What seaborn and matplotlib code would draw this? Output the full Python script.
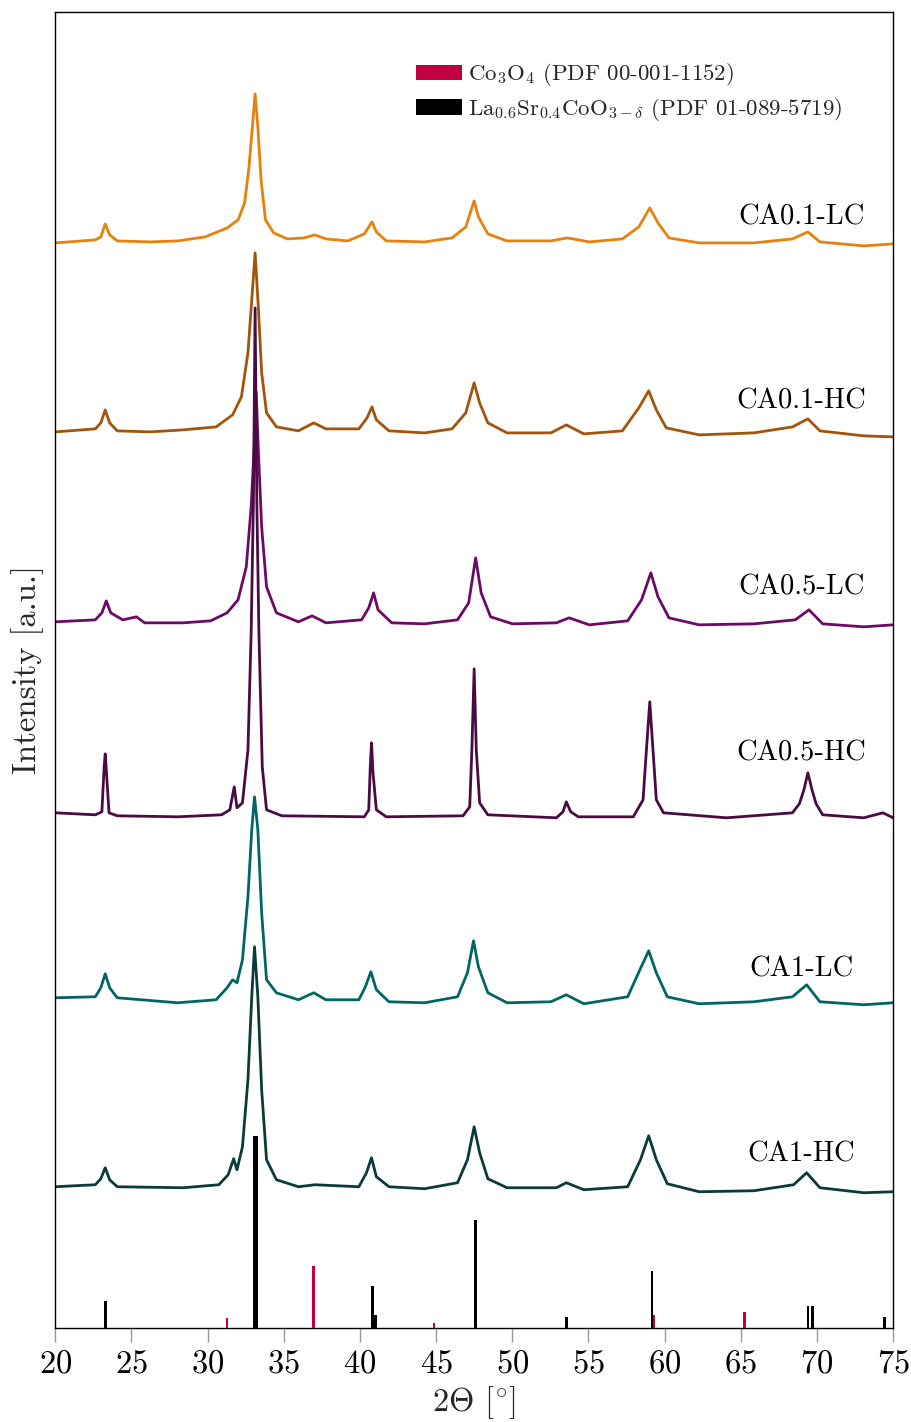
import numpy as np
import pandas as pd
import matplotlib
matplotlib.use("Agg")
import matplotlib.pyplot as plt
from matplotlib.patches import Patch
import seaborn as sns

# ---------------- data (intensity in a.u., stacked) ----------------
samples = ["CA0.1-LC", "CA0.1-HC", "CA0.5-LC", "CA0.5-HC", "CA1-LC", "CA1-HC"]
colors = ["#E8800C", "#A3530A", "#6C0A66", "#4A0A42", "#006663", "#0B3A3A"]
label_y = [1111, 927, 741, 574, 358, 173]

tt_ca01_lc = [20.00, 22.63, 22.99, 23.28, 23.57, 24.07, 26.23, 28.04, 29.84, 31.28, 32.00, 32.43, 32.72, 32.94,
              33.12, 33.30, 33.51, 33.80, 34.34, 35.24, 36.32, 37.05, 37.77, 39.21, 40.29, 40.79, 41.08, 41.73,
              44.25, 46.05, 46.95, 47.50, 47.78, 48.40, 49.66, 52.54, 53.62, 55.06, 57.23, 58.31, 59.03, 59.57,
              60.29, 62.27, 65.87, 68.40, 69.41, 70.20, 73.08, 75.00]
int_ca01_lc = [1085, 1088, 1091, 1104, 1093, 1087, 1086, 1087, 1091, 1100, 1108, 1125, 1161, 1201,
               1234, 1201, 1148, 1108, 1095, 1089, 1090, 1093, 1089, 1087, 1094, 1106, 1096, 1087,
               1086, 1090, 1101, 1127, 1111, 1094, 1087, 1087, 1090, 1086, 1089, 1101, 1120, 1105,
               1090, 1085, 1085, 1089, 1096, 1086, 1082, 1084]

tt_ca01_hc = [20.00, 22.63, 22.99, 23.28, 23.57, 24.07, 26.23, 28.40, 30.56, 31.64, 32.22, 32.65, 32.90, 33.12,
              33.33, 33.55, 33.87, 34.52, 35.96, 36.97, 37.77, 39.93, 40.47, 40.79, 41.08, 41.91, 44.25, 46.05,
              46.95, 47.50, 47.86, 48.40, 49.66, 52.54, 53.55, 54.70, 57.23, 58.31, 58.96, 59.46, 60.11, 62.27,
              65.87, 68.40, 69.41, 70.20, 73.08, 75.00]
int_ca01_hc = [896, 899, 905, 918, 905, 897, 896, 898, 901, 913, 931, 975, 1028, 1075,
               1021, 955, 915, 901, 897, 905, 899, 899, 910, 921, 908, 897, 895, 899,
               915, 945, 925, 905, 895, 895, 903, 894, 897, 920, 937, 918, 900, 893,
               895, 901, 909, 897, 892, 891]

tt_ca05_lc = [20.00, 22.63, 23.06, 23.35, 23.64, 24.43, 25.33, 25.87, 28.40, 30.20, 31.28, 32.00, 32.54, 32.86,
              33.05, 33.19, 33.33, 33.55, 33.87, 34.52, 35.96, 36.86, 37.77, 40.11, 40.58, 40.90, 41.19, 42.09,
              44.25, 46.41, 47.14, 47.60, 47.96, 48.58, 50.02, 52.90, 53.73, 55.06, 57.58, 58.49, 59.10, 59.57,
              60.29, 62.27, 65.87, 68.58, 69.48, 70.38, 73.08, 75.00]
int_ca05_lc = [706, 708, 715, 727, 715, 708, 711, 705, 705, 707, 715, 728, 761, 821,
               878, 936, 878, 801, 741, 715, 706, 712, 705, 708, 720, 735, 718, 705,
               704, 708, 725, 770, 735, 711, 704, 705, 710, 703, 707, 728, 755, 731,
               710, 703, 704, 708, 718, 704, 701, 703]

tt_ca05_hc = [20.00, 22.63, 23.06, 23.21, 23.28, 23.35, 23.53, 24.07, 28.04, 30.92, 31.46, 31.75, 31.93, 32.29,
              32.65, 32.86, 33.01, 33.12, 33.23, 33.37, 33.59, 33.87, 34.88, 40.29, 40.58, 40.68, 40.76, 40.86,
              41.08, 41.73, 46.77, 47.21, 47.35, 47.50, 47.64, 47.86, 48.40, 52.90, 53.33, 53.55, 53.84, 54.34,
              57.95, 58.59, 58.81, 59.03, 59.24, 59.46, 59.93, 64.07, 68.40, 68.85, 69.15, 69.41, 69.68, 69.95,
              70.38, 73.08, 74.34, 75.00]
int_ca05_hc = [515, 513, 516, 561, 574, 558, 515, 512, 511, 513, 518, 541, 520, 525,
               578, 695, 828, 1020, 828, 695, 561, 518, 512, 511, 518, 561, 585, 555,
               518, 511, 512, 521, 578, 659, 578, 525, 513, 510, 516, 526, 516, 511,
               511, 528, 578, 626, 578, 528, 515, 510, 515, 524, 538, 555, 538, 524,
               513, 510, 515, 510]

tt_ca1_lc = [20.00, 22.63, 22.99, 23.28, 23.57, 24.07, 28.04, 30.56, 31.28, 31.64, 31.93, 32.29, 32.65, 32.90,
             33.08, 33.30, 33.55, 33.87, 34.52, 35.96, 36.97, 37.77, 39.93, 40.36, 40.72, 41.08, 41.91, 44.25,
             46.41, 47.06, 47.46, 47.78, 48.40, 49.66, 52.54, 53.55, 54.70, 57.58, 58.38, 58.96, 59.46, 60.18,
             62.27, 65.87, 68.40, 69.33, 70.20, 73.08, 75.00]
int_ca1_lc = [330, 331, 340, 354, 340, 330, 325, 328, 340, 348, 345, 368, 431, 498,
              531, 498, 415, 348, 335, 328, 335, 328, 328, 341, 356, 338, 326, 325,
              331, 355, 387, 361, 335, 325, 326, 333, 324, 331, 358, 377, 355, 331,
              324, 326, 331, 343, 326, 323, 325]

tt_ca1_hc = [20.00, 22.63, 22.99, 23.28, 23.57, 24.07, 28.40, 30.74, 31.35, 31.71, 31.93, 32.29, 32.65, 32.90,
             33.08, 33.30, 33.55, 33.87, 34.52, 35.96, 37.05, 39.93, 40.43, 40.76, 41.08, 41.91, 44.25, 46.41,
             47.06, 47.50, 47.86, 48.40, 49.66, 52.90, 53.55, 54.70, 57.58, 58.42, 58.96, 59.46, 60.18, 62.27,
             65.87, 68.47, 69.33, 70.20, 73.08, 75.00]
int_ca1_hc = [141, 143, 149, 160, 148, 141, 140, 143, 153, 169, 158, 181, 248, 331,
              381, 331, 238, 168, 148, 141, 143, 141, 155, 170, 151, 141, 139, 145,
              168, 201, 175, 149, 140, 140, 145, 138, 141, 168, 192, 168, 144, 136,
              137, 143, 155, 140, 135, 136]

# reference patterns
co3o4_pos = [31.28, 36.97, 44.86, 59.30, 65.23]
co3o4_int = [10, 62, 5, 13, 16]
lsc_pos = [23.28, 33.07, 33.24, 40.83, 41.01, 47.57, 53.55, 59.17, 69.41, 69.70, 74.43]
lsc_int = [27, 192, 192, 42, 13, 108, 11, 57, 22, 22, 11]

co3o4_label = r"Co$_3$O$_4$ (PDF 00-001-1152)"
lsc_label = r"La$_{0.6}$Sr$_{0.4}$CoO$_{3-\delta}$ (PDF 01-089-5719)"
co3o4_color = "#C2003F"
lsc_color = "#000000"
xticks = [20, 25, 30, 35, 40, 45, 50, 55, 60, 65, 70, 75]

# ---------------- build table ----------------
series_tt = [tt_ca01_lc, tt_ca01_hc, tt_ca05_lc, tt_ca05_hc, tt_ca1_lc, tt_ca1_hc]
series_int = [int_ca01_lc, int_ca01_hc, int_ca05_lc, int_ca05_hc, int_ca1_lc, int_ca1_hc]
frames = []
for name, t, v in zip(samples, series_tt, series_int):
    frames.append(pd.DataFrame({"two_theta": t, "intensity": v, "sample": name}))
df = pd.concat(frames, ignore_index=True)

# ---------------- style ----------------
sns.set_theme(style="white")
plt.rcParams["font.family"] = ["cmr10", "DejaVu Serif"]
plt.rcParams["mathtext.fontset"] = "cm"
plt.rcParams["axes.formatter.use_mathtext"] = True
plt.rcParams["axes.unicode_minus"] = False

fig = plt.figure(figsize=(9.12, 14.22), dpi=100)
ax = fig.add_axes([0.0606, 0.0663, 0.9186, 0.9253])

sns.lineplot(data=df, x="two_theta", y="intensity", hue="sample", hue_order=samples,
             palette=dict(zip(samples, colors)), sort=False, estimator=None,
             legend=False, linewidth=2.0, ax=ax)

ax.bar(co3o4_pos, co3o4_int, width=0.17, color=co3o4_color, linewidth=0, zorder=3)
ax.bar(lsc_pos, lsc_int, width=0.17, color=lsc_color, linewidth=0, zorder=3)

for name, y in zip(samples, label_y):
    ax.text(69.0, y, name, ha="center", va="center", fontsize=20.5, color="black")

ax.set_xlim(20, 75)
ax.set_ylim(0, 1316)
ax.set_xticks(xticks)
ax.set_yticks([])
ax.tick_params(axis="x", direction="out", length=10, width=1, color="#999999",
               labelsize=23.5, labelcolor="black", pad=6, bottom=True)
for s in ax.spines.values():
    s.set_color("black")
    s.set_linewidth(1.0)
    s.set_visible(True)

ax.set_xlabel(r"$2\Theta$ [$^{\circ}$]", fontsize=23.5, labelpad=4)
ax.set_ylabel("Intensity [a.u.]", fontsize=23.5, labelpad=8)

handles = [Patch(facecolor=co3o4_color, edgecolor="none"),
           Patch(facecolor=lsc_color, edgecolor="none")]
ax.legend(handles, [co3o4_label, lsc_label], loc="upper left",
          bbox_to_anchor=(0.4306, 0.9625), frameon=False, fontsize=16.5,
          handlelength=2.0, handleheight=0.66, handletextpad=0.25,
          labelspacing=0.33, borderpad=0, borderaxespad=0)

fig.savefig("out.png", dpi=100)
